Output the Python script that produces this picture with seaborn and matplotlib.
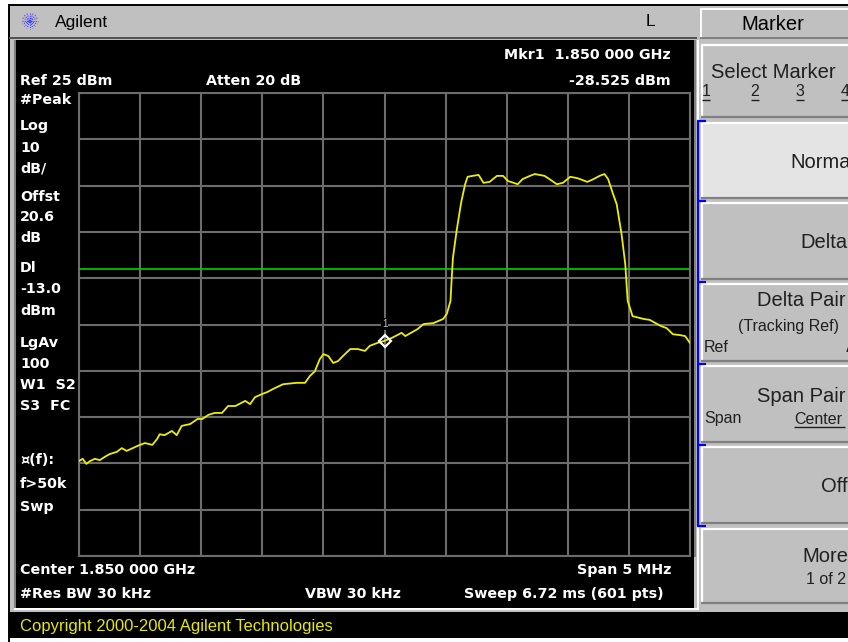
import matplotlib
matplotlib.use("Agg")
import matplotlib.pyplot as plt
from matplotlib.patches import Rectangle
import numpy as np
import pandas as pd
import seaborn as sns

# ---- instrument settings -------------------------------------------------
CENTER_MHZ = 1850.0
SPAN_MHZ = 5.0
REF_DBM = 25.0
DB_PER_DIV = 10.0
DISPLAY_LINE_DBM = -13.0
MARKER_OFFSET_MHZ = 0.0
MARKER_DBM = -28.525

# ---- measured trace (offset from center in MHz, level in dBm) ------------
offset_mhz = [
    -2.50, -2.47, -2.44, -2.41, -2.37, -2.33, -2.29, -2.25, -2.19, -2.15,
    -2.11, -2.06, -2.02, -1.96, -1.90, -1.86, -1.84, -1.80, -1.74, -1.70,
    -1.66, -1.59, -1.53, -1.49, -1.44, -1.39, -1.33, -1.28, -1.22, -1.14,
    -1.10, -1.06, -1.00, -0.96, -0.91, -0.83, -0.72, -0.65, -0.61, -0.57,
    -0.53, -0.50, -0.46, -0.42, -0.38, -0.34, -0.28, -0.22, -0.16, -0.12,
    -0.06, 0.00, 0.06, 0.14, 0.17, 0.27, 0.32, 0.40, 0.48, 0.51,
    0.54, 0.55, 0.56, 0.59, 0.62, 0.63, 0.66, 0.68, 0.72, 0.77,
    0.81, 0.86, 0.92, 0.97, 1.01, 1.09, 1.13, 1.19, 1.23, 1.31,
    1.35, 1.41, 1.46, 1.52, 1.58, 1.66, 1.71, 1.76, 1.80, 1.83,
    1.87, 1.90, 1.94, 1.97, 1.99, 2.03, 2.12, 2.17, 2.26, 2.31,
    2.36, 2.42, 2.46, 2.50,
]
level_dbm = [
    -54.5, -54.0, -55.1, -54.5, -54.0, -54.3, -53.6, -53.0, -52.5, -51.7,
    -52.3, -51.7, -51.2, -50.6, -51.0, -49.7, -48.7, -48.9, -48.0, -48.9,
    -46.9, -46.5, -45.4, -45.4, -44.5, -44.1, -44.1, -42.6, -42.6, -41.5,
    -42.2, -40.7, -40.0, -39.6, -38.9, -37.9, -37.6, -37.6, -36.1, -35.1,
    -32.5, -31.4, -31.8, -33.3, -32.9, -31.8, -30.3, -30.3, -30.7, -29.6,
    -29.0, -28.525, -27.9, -26.8, -27.5, -26.0, -24.9, -24.7, -23.8, -22.7,
    -19.9, -15.0, -10.6, -4.8, 0.2, 1.7, 5.3, 6.9, 7.1, 7.3,
    5.6, 5.8, 7.1, 7.1, 6.0, 5.3, 6.4, 7.1, 7.5, 7.1,
    6.4, 5.3, 5.6, 6.9, 6.6, 5.8, 6.4, 7.1, 7.5, 6.4,
    3.2, 1.0, -5.5, -11.9, -19.9, -23.2, -23.8, -24.0, -25.3, -25.8,
    -27.1, -27.3, -27.5, -29.0,
]

left_labels = ["#Peak", "Log", "10", "dB/", "Offst", "20.6", "dB", "Dl",
               "-13.0", "dBm", "LgAv", "100", "W1  S2", "S3  FC",
               "\u00a4(f):", "f>50k", "Swp"]
left_label_rows = [100, 126, 148, 169, 197, 217, 238, 268, 289, 311,
                   343, 364, 385, 406, 460, 484, 507]

sns.set_theme(style="dark")
plt.rcParams['font.family'] = ['Liberation Sans', 'DejaVu Sans']

W, H = 848, 642
fig = plt.figure(figsize=(W / 100, H / 100), dpi=100, facecolor="white")

# ---- screen chrome drawn in pixel coordinates -----------------------------
bg = fig.add_axes([0, 0, 1, 1])
bg.set_xlim(0, W)
bg.set_ylim(H, 0)
bg.axis("off")

GRAY = "#c0c0c0"
DARK = "#808080"


def rect(x0, y0, x1, y1, color, z=1):
    bg.add_patch(Rectangle((x0, y0), x1 - x0, y1 - y0, facecolor=color,
                           edgecolor="none", zorder=z))


def hline(x0, x1, y, color, lw=1.0, z=3):
    bg.plot([x0, x1], [y, y], color=color, lw=lw, zorder=z,
            solid_capstyle="butt")


def vline(x, y0, y1, color, lw=1.0, z=3):
    bg.plot([x, x], [y0, y1], color=color, lw=lw, zorder=z,
            solid_capstyle="butt")


# outer frame and title bar
rect(8, 5, W, 612, GRAY)
hline(8, W, 5, "black", lw=1.4)
vline(8.5, 5, 642, "black", lw=1.4)
hline(9, 697, 37.5, "#505050", lw=1.4)
# trace window
rect(16, 40, 694, 608, "black")
vline(14.5, 40, 608, DARK, lw=1.4)
vline(694.5, 40, 557, DARK, lw=1.4)
hline(14, 697, 609, "white", lw=1.4)
# message line
rect(9, 612, W, 638, "black")

# Agilent spark logo
for ang in np.arange(0, 180, 22.5):
    a = np.deg2rad(ang)
    bg.plot([30 - 8 * np.cos(a), 30 + 8 * np.cos(a)],
            [21 - 8 * np.sin(a), 21 + 8 * np.sin(a)],
            color="#4040ff", lw=0.8, ls=(0, (1, 1)), zorder=4)
bg.text(55, 22, "Agilent", fontsize=12.5, color="black", va="center",
        ha="left", zorder=5)
bg.text(650, 22, "L", fontsize=12.5, color="black", va="center",
        ha="center", zorder=5)

# softkey panel
rect(697, 8, W, 612, GRAY)
hline(700, W, 8.5, "white", lw=1.4)
vline(700.5, 8, 37, "white", lw=1.4)
hline(700, W, 37.5, DARK, lw=1.4)
bg.text(773, 24, "Marker", fontsize=14.5, color="black", va="center",
        ha="center", zorder=5)
vline(697.5, 40, 610, "white", lw=1.4)


def softkey(y0, y1, fill=GRAY):
    rect(701, y0, W, y1, fill, z=2)
    hline(701, W, y0 + 0.7, "white", lw=1.6)
    vline(701.5, y0, y1, "white", lw=1.6)
    hline(701, W, y1 - 0.7, DARK, lw=1.6)


softkey(44, 118)
softkey(122, 199, fill="#e4e4e4")
softkey(202, 280)
softkey(283, 362)
softkey(365, 443)
softkey(446, 524)
softkey(528, 604)

bg.text(773, 72, "Select Marker", fontsize=14.5, va="center", ha="center",
        color="#202020", zorder=5)
for xs, d in zip([706, 755, 800, 845], ["1", "2", "3", "4"]):
    bg.text(xs, 92, d, fontsize=11.5, va="center", ha="center",
            color="#202020", zorder=5)
    hline(xs - 4, xs + 4, 100, "#202020", lw=1.0, z=5)
bg.text(790, 162, "Normal", fontsize=14.5, va="center", ha="left",
        color="#202020", zorder=5)
bg.text(848, 242, "Delta", fontsize=14.5, va="center", ha="right",
        color="#202020", zorder=5)
bg.text(846, 301, "Delta Pair", fontsize=14.5, va="center", ha="right",
        color="#202020", zorder=5)
bg.text(788, 327, "(Tracking Ref)", fontsize=11.5, va="center", ha="center",
        color="#202020", zorder=5)
bg.text(704, 348, "Ref", fontsize=11.5, va="center", ha="left",
        color="#202020", zorder=5)
bg.text(845, 348, "\u0394", fontsize=11.5, va="center", ha="left",
        color="#202020", zorder=5)
bg.text(757, 396, "Span Pair", fontsize=14.5, va="center", ha="left",
        color="#202020", zorder=5)
bg.text(704, 419, "Span", fontsize=11.5, va="center", ha="left",
        color="#202020", zorder=5)
bg.text(794, 419, "Center", fontsize=11.5, va="center", ha="left",
        color="#202020", zorder=5)
hline(794, 845, 427, "#202020", lw=1.0, z=5)
bg.text(848, 487, "Off", fontsize=14.5, va="center", ha="right",
        color="#202020", zorder=5)
bg.text(848, 557, "More", fontsize=14.5, va="center", ha="right",
        color="#202020", zorder=5)
bg.text(826, 579, "1 of 2", fontsize=11.5, va="center", ha="center",
        color="#202020", zorder=5)

# active-key bracket
vline(697.8, 121, 526, "#0000ff", lw=1.6, z=6)
for yb in [121, 201, 282, 364, 445, 525.5]:
    hline(697, 706, yb, "#0000ff", lw=1.6, z=6)

# annotation text inside the trace window
BOLD = dict(fontsize=10.3, color="white", fontweight="bold",
            family=["DejaVu Sans"], va="center", zorder=5)
bg.text(20, 81, "Ref 25 dBm", ha="left", **BOLD)
bg.text(206, 81, "Atten 20 dB", ha="left", **BOLD)
bg.text(671, 55, "Mkr1  1.850 000 GHz", ha="right", **BOLD)
bg.text(671, 81, f"{MARKER_DBM:.3f} dBm", ha="right", **BOLD)
for txt, yy in zip(left_labels, left_label_rows):
    bg.text(20, yy, txt, ha="left", **BOLD)
bg.text(20, 570, f"Center {CENTER_MHZ / 1000:.3f} 000 GHz", ha="left", **BOLD)
bg.text(671, 570, f"Span {SPAN_MHZ:g} MHz", ha="right", **BOLD)
bg.text(20, 594, "#Res BW 30 kHz", ha="left", **BOLD)
bg.text(305, 594, "VBW 30 kHz", ha="left", **BOLD)
bg.text(664, 594, "Sweep 6.72 ms (601 pts)", ha="right", **BOLD)

bg.text(20, 627, "Copyright 2000-2004 Agilent Technologies", fontsize=12,
        color="#e8e800", va="center", ha="left", zorder=5)

# ---- the spectrum graticule ----------------------------------------------
gx0, gx1, gy0, gy1 = 79, 690, 93, 556
ax = fig.add_axes([gx0 / W, (H - gy1) / H, (gx1 - gx0) / W, (gy1 - gy0) / H])
ax.set_facecolor("black")

df = pd.DataFrame({"freq_mhz": np.array(offset_mhz) + CENTER_MHZ,
                   "level_dbm": level_dbm})
sns.lineplot(data=df, x="freq_mhz", y="level_dbm", ax=ax, color="#eeee00",
             lw=1.3, zorder=4)

fmin, fmax = CENTER_MHZ - SPAN_MHZ / 2, CENTER_MHZ + SPAN_MHZ / 2
ymin, ymax = REF_DBM - 10 * DB_PER_DIV, REF_DBM
ax.set_xlim(fmin, fmax)
ax.set_ylim(ymin, ymax)
ax.set_xticks(np.linspace(fmin, fmax, 11))
ax.set_yticks(np.linspace(ymin, ymax, 11))
ax.set_xticklabels([])
ax.set_yticklabels([])
ax.tick_params(length=0)
ax.set_xlabel("")
ax.set_ylabel("")
ax.grid(True, color="#6c6c6c", lw=1.5)
ax.set_axisbelow(True)
for s in ax.spines.values():
    s.set_color("#6c6c6c")
    s.set_linewidth(1.5)

ax.axhline(DISPLAY_LINE_DBM, color="#00d000", lw=1.2, zorder=3)

mx = CENTER_MHZ + MARKER_OFFSET_MHZ
ax.plot([mx], [MARKER_DBM], marker="D", ms=6.5, mfc="none", mec="white",
        mew=1.6, zorder=6)
ax.text(mx, MARKER_DBM + 3.6, "1", fontsize=7, color="#c8c8c8",
        ha="center", va="center", zorder=6,
        bbox=dict(boxstyle="square,pad=0.1", fc="black", ec="none"))

fig.savefig("out.png", dpi=100, facecolor="white")
